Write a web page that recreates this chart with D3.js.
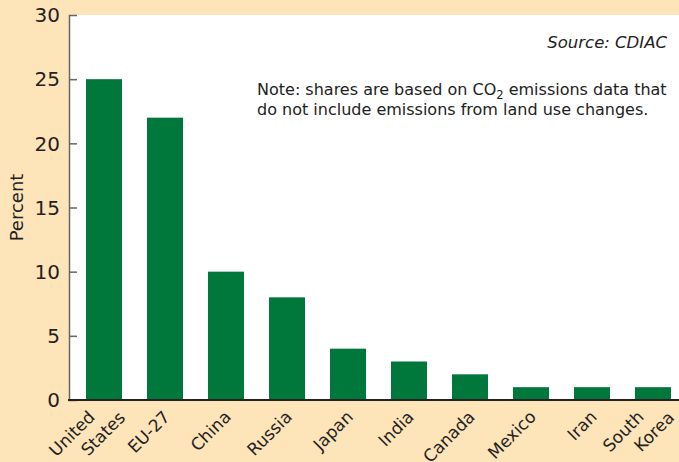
<!DOCTYPE html>
<html><head><meta charset="utf-8">
<script src="https://cdn.jsdelivr.net/npm/d3@7"></script>
<style>html,body{margin:0;padding:0;background:#FDE4B9;}svg{display:block;font-family:"DejaVu Sans",sans-serif;}</style>
</head><body><svg id="c" width="679" height="462"></svg>
<script>
const categories = ["United States","EU-27","China","Russia","Japan","India","Canada","Mexico","Iran","South Korea"];
const labelLines = [["United","States"],["EU-27"],["China"],["Russia"],["Japan"],["India"],["Canada"],["Mexico"],["Iran"],["South","Korea"]];
const values = [25,22,10,8,4,3,2,1,1,1];
const yTicks = [0,5,10,15,20,25,30];

(function(){
const svg = d3.select("#c");
const W=679,H=462;
const mL=69, mT=15, mB=400, mR=679;
svg.append("rect").attr("width",W).attr("height",H).attr("fill","#FDE4B9");
svg.append("rect").attr("x",mL).attr("y",mT).attr("width",mR-mL).attr("height",mB-mT).attr("fill","#fff");

const x = d3.scaleBand().domain(categories).range([mL,688]).paddingInner(0.41).paddingOuter(0.279);
const y = d3.scaleLinear().domain([0,30]).range([mB,mT]);

svg.selectAll("rect.bar").data(values).join("rect").attr("class","bar")
  .attr("x",(d,i)=>x(categories[i])).attr("width",x.bandwidth())
  .attr("y",d=>y(d)).attr("height",d=>mB-y(d)).attr("fill","#00773B");

const ya = svg.append("g").attr("transform",`translate(${mL},0)`)
  .call(d3.axisRight(y).tickValues(yTicks).tickSize(8).tickFormat(""));
ya.select(".domain").attr("stroke","#666").attr("stroke-width",1.5);
ya.selectAll(".tick line").attr("stroke","#666").attr("stroke-width",1.5)
  .attr("display",d=>(d===0||d===30)?"none":null);
svg.selectAll("text.yt").data(yTicks).join("text").attr("class","yt")
  .attr("x",60).attr("y",d=>y(d)).attr("dy","0.36em").attr("text-anchor","end")
  .attr("font-size",20).attr("fill","#222").text(d=>d);

svg.append("line").attr("x1",mL-1).attr("x2",mR).attr("y1",mB).attr("y2",mB)
  .attr("stroke","#222").attr("stroke-width",2);

categories.forEach((c,i)=>{
  const cx = x(c)+x.bandwidth()/2;
  const t = svg.append("text").attr("transform",`translate(${cx+6},418) rotate(-45)`)
    .attr("text-anchor","end").attr("font-size",17).attr("fill","#222");
  const lines = labelLines[i];
  if(lines.length===1){ t.text(lines[0]); }
  else {
    t.append("tspan").attr("x",-10).attr("y",-10).text(lines[0]);
    t.append("tspan").attr("x",11).attr("y",12).text(lines[1]);
  }
});

svg.append("text").attr("transform","translate(23,207.5) rotate(-90)")
  .attr("text-anchor","middle").attr("font-size",18).attr("fill","#222").text("Percent");

svg.append("text").attr("x",667).attr("y",48).attr("text-anchor","end")
  .attr("font-size",16.5).attr("font-style","italic").attr("fill","#222").text("Source: CDIAC");

const note = svg.append("text").attr("x",257).attr("y",95).attr("font-size",16).attr("fill","#222");
note.append("tspan").text("Note: shares are based on CO");
note.append("tspan").attr("font-size",11.5).attr("dy",4).text("2");
note.append("tspan").attr("dy",-4).text(" emissions data that");
svg.append("text").attr("x",257).attr("y",115).attr("font-size",16).attr("fill","#222")
  .text("do not include emissions from land use changes.");
})();
</script></body></html>
